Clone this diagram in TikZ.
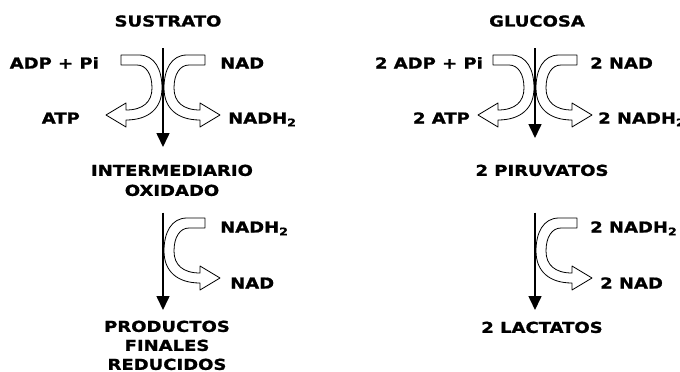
\documentclass[tikz,border=0pt]{standalone}
\usepackage{fontspec}
\setmainfont{DejaVu Sans}[FakeStretch=1.2, BoldFeatures={FakeBold=1.2}]
\usepackage{tikz}
\usetikzlibrary{arrows.meta}

\tikzset{
  lbl/.style={font=\fontsize{15}{19}\selectfont\bfseries, inner sep=0pt, align=center},
  flow/.style={line width=1.6pt, -{Triangle[width=13pt, length=14pt]}},
  pics/bendarrow/.style={code={
    \draw[line width=0.8pt, fill=white, line join=round]
      (42,-33) -- (24,-33) .. controls (8,-33) and (1,-18) .. (1,0)
      .. controls (1,20) and (14,32) .. (37,32) -- (37,39) -- (57,27) -- (37,15) -- (37,22)
      .. controls (20,22) and (11,14) .. (11,0)
      .. controls (11,-14) and (17,-23) .. (26,-23) -- (42,-23) -- cycle;
  }}
}

\begin{document}
\begin{tikzpicture}[x=1pt, y=-1pt]
  \useasboundingbox (0,0) rectangle (680,372);

  %% Axes
  \coordinate (axL) at (163,0);
  \coordinate (axR) at (535,0);

  %% Left: general scheme
  \node[lbl, anchor=base] (sustrato) at (168,26.5) {SUSTRATO};
  \node[lbl, anchor=north] (inter) at (172,164.5) {INTERMEDIARIO\\[1pt]OXIDADO};
  \node[lbl, anchor=north] (prod) at (167,320.5) {PRODUCTOS\\FINALES\\REDUCIDOS};

  \pic[xscale=-1] at (163,88) {bendarrow};
  \pic at (163,88) {bendarrow};
  \pic at (163,251) {bendarrow};

  \node[lbl, anchor=base east] (adpL) at (99,68.5) {ADP + Pi};
  \node[lbl, anchor=base east] (atpL) at (80,123.5) {ATP};
  \node[lbl, anchor=base west] (nadL) at (220,68.5) {NAD};
  \node[lbl, anchor=base west] (nadhL) at (228,123.5) {NADH\textsubscript{2}};
  \node[lbl, anchor=base west] (nadhLb) at (220,232.5) {NADH\textsubscript{2}};
  \node[lbl, anchor=base west] (nadLb) at (230,288.5) {NAD};

  \draw[flow, shorten <=21.5pt, shorten >=17.5pt] (sustrato.south -| axL) -- (inter.north -| axL);
  \draw[flow, shorten <=16.5pt, shorten >=10.5pt] (inter.south -| axL) -- (prod.north -| axL);

  %% Right: glycolysis and lactic fermentation
  \node[lbl, anchor=base] (glucosa) at (537,26.5) {GLUCOSA};
  \node[lbl, anchor=north] (piruv) at (542,164.5) {2 PIRUVATOS};
  \node[lbl, anchor=north] (lact) at (542,321.5) {2 LACTATOS};

  \pic[xscale=-1] at (535,88) {bendarrow};
  \pic at (535,88) {bendarrow};
  \pic at (535,251) {bendarrow};

  \node[lbl, anchor=base east] (adpR) at (483,68.5) {2 ADP + Pi};
  \node[lbl, anchor=base east] (atpR) at (470,123.5) {2 ATP};
  \node[lbl, anchor=base west] (nadR) at (590,68.5) {2 NAD};
  \node[lbl, anchor=base west] (nadhR) at (598,123.5) {2 NADH\textsubscript{2}};
  \node[lbl, anchor=base west] (nadhRb) at (590,232.5) {2 NADH\textsubscript{2}};
  \node[lbl, anchor=base west] (nadRb) at (600,288.5) {2 NAD};

  \draw[flow, shorten <=21.5pt, shorten >=26.5pt] (glucosa.south -| axR) -- (piruv.north -| axR);
  \draw[flow, shorten <=36.5pt, shorten >=11.5pt] (piruv.south -| axR) -- (lact.north -| axR);

\end{tikzpicture}
\end{document}
